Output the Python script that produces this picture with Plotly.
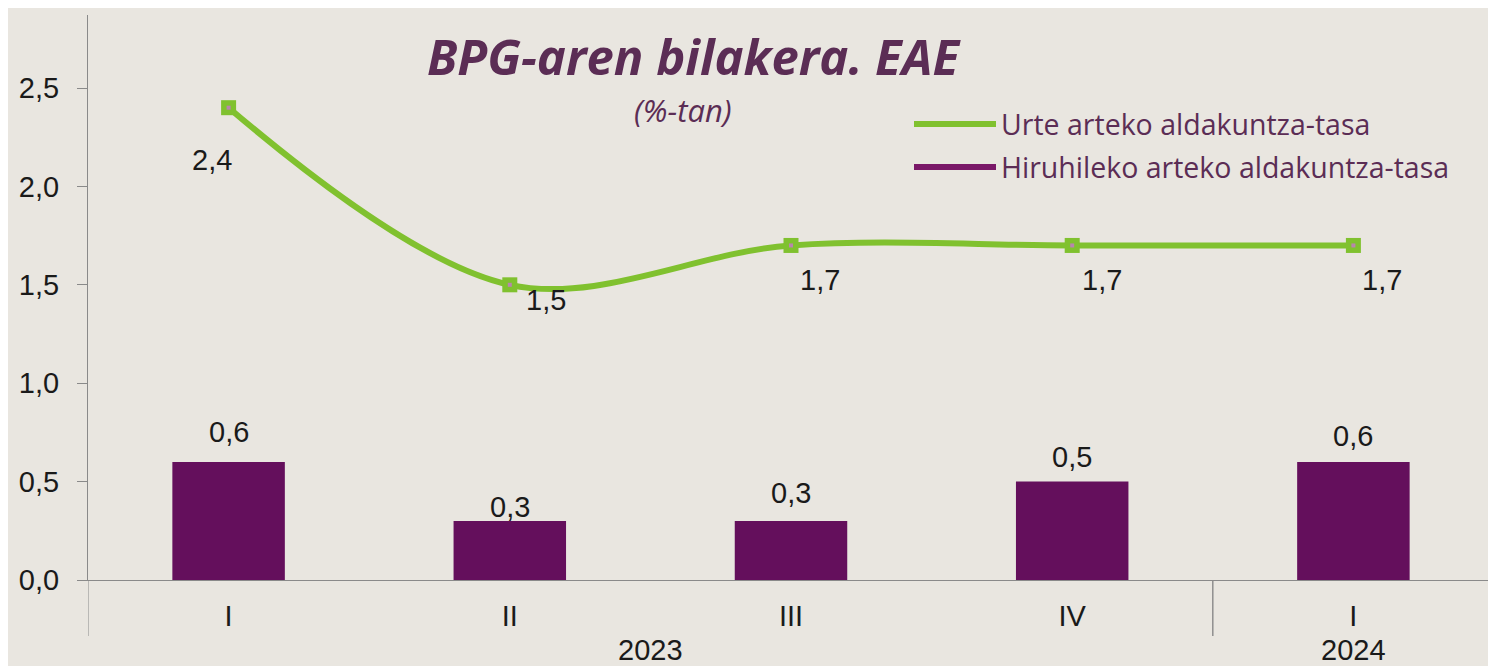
import plotly.graph_objects as go

# ---- data ----
years = ["2023", "2023", "2023", "2023", "2024"]
quarters = ["I", "II", "III", "IV", "I"]
annual_rate = [2.4, 1.5, 1.7, 1.7, 1.7]      # Urte arteko aldakuntza-tasa
quarterly_rate = [0.6, 0.3, 0.3, 0.5, 0.6]   # Hiruhileko arteko aldakuntza-tasa
y_ticks = [0, 0.5, 1.0, 1.5, 2.0, 2.5]
y_tick_labels = ["0,0", "0,5", "1,0", "1,5", "2,0", "2,5"]
title_text = "BPG-aren bilakera. EAE"
subtitle_text = "(%-tan)"
name_annual = "Urte arteko aldakuntza-tasa"
name_quarterly = "Hiruhileko arteko aldakuntza-tasa"

# ---- style ----
BG = "#E9E6E0"
GREEN = "#80C12F"
PURPLE = "#640F5C"
TEXT_PURPLE = "#5B2D55"
AXIS = "#8A8A8A"
NUM_FONT = dict(family="Liberation Sans, Arial, sans-serif", size=29, color="#1A1A1A")

# figure geometry (page is offset by the 8px body margin)
L, T, R, B = 80, 7, 10, 94
W, H = 1496, 666
PW, PH = W - L - R, H - T - B

def px_x(x):
    return (x - L) / PW

def px_y(y):
    return (H - B - y) / PH

# label offsets (pixels), style only
line_label_shift = [(-17, -52), (36, -15), (29, -35), (30, -35), (29, -35)]
bar_label_shift = [30, 14, 28, 25, 26]

# unique category keys (quarter + year), displayed as the quarter only
cats = [f"{q} {y}" for q, y in zip(quarters, years)]

def fmt(v):
    return f"{v:.1f}".replace(".", ",")

fig = go.Figure()

fig.add_trace(go.Bar(
    x=cats, y=quarterly_rate, marker=dict(color=PURPLE, line=dict(width=0)),
    width=0.4, showlegend=False, legendgroup="q", hoverinfo="y",
))
fig.add_trace(go.Scatter(
    x=cats, y=annual_rate, mode="lines", name=name_annual,
    line=dict(color=GREEN, width=6, shape="spline", smoothing=1),
    legendgroup="a", legendrank=1,
))
fig.add_trace(go.Scatter(
    x=cats, y=annual_rate, mode="markers", showlegend=False, hoverinfo="skip",
    marker=dict(symbol="square", size=15, color=GREEN),
))
fig.add_trace(go.Scatter(
    x=cats, y=annual_rate, mode="markers", showlegend=False, hoverinfo="skip",
    marker=dict(symbol="square", size=4, color="#B886AE"),
))
# legend entry for the bar series (shown as a line, as in the original)
fig.add_trace(go.Scatter(
    x=[None], y=[None], mode="lines", name=name_quarterly,
    line=dict(color="#7A1868", width=6), legendgroup="q", legendrank=2,
))

ann = []
for i in range(len(cats)):
    dx, dy = line_label_shift[i]
    ann.append(dict(x=cats[i], y=annual_rate[i], xref="x", yref="y", text=fmt(annual_rate[i]),
                    showarrow=False, xshift=dx, yshift=dy, font=NUM_FONT))
    ann.append(dict(x=cats[i], y=quarterly_rate[i], xref="x", yref="y", text=fmt(quarterly_rate[i]),
                    showarrow=False, yshift=bar_label_shift[i], font=NUM_FONT))

# year group labels and dividers
shapes = []
groups = []
for i, yv in enumerate(years):
    if not groups or groups[-1][0] != yv:
        groups.append([yv, i, i])
    else:
        groups[-1][2] = i
for yv, i0, i1 in groups:
    ann.append(dict(x=(i0 + i1) / 2, y=px_y(650 - 8), xref="x", yref="paper", text=yv,
                    showarrow=False, xanchor="center", yanchor="middle", font=NUM_FONT))
    for bx in (i0 - 0.5, i1 + 0.5):
        shapes.append(dict(type="line", xref="x", yref="paper", x0=bx, x1=bx,
                           y0=0, y1=px_y(636 - 8), line=dict(color=AXIS, width=1)))

ann.append(dict(x=px_x(675), y=px_y(102), xref="paper", yref="paper", text=subtitle_text,
                showarrow=False, xanchor="center", yanchor="middle",
                font=dict(family="Open Sans", size=31, color=TEXT_PURPLE, style="italic")))

fig.update_layout(
    width=W, height=H,
    paper_bgcolor=BG, plot_bgcolor=BG,
    margin=dict(l=L, r=R, t=T, b=B, autoexpand=False),
    title=dict(text=title_text, x=685 / W, xanchor="center", y=1 - 50 / H, yanchor="middle",
               font=dict(family="Open Sans", size=49, weight=700, style="italic", color=TEXT_PURPLE)),
    showlegend=True,
    legend=dict(x=px_x(901), y=px_y(91), xanchor="left", yanchor="top",
                bgcolor="rgba(0,0,0,0)", font=dict(family="Open Sans", size=28.5, color=TEXT_PURPLE),
                tracegroupgap=3, itemwidth=82, traceorder="grouped"),
    bargap=0.6,
    xaxis=dict(type="category", range=[-0.5, len(cats) - 0.5], tickvals=cats, ticktext=quarters,
               showline=True, linecolor=AXIS, linewidth=1, ticks="", ticklabelstandoff=10,
               tickfont=NUM_FONT, showgrid=False, zeroline=False, automargin=False),
    yaxis=dict(range=[0, 2.871], tickvals=y_ticks, ticktext=y_tick_labels, tickfont=NUM_FONT,
               showline=True, linecolor=AXIS, linewidth=1, ticks="outside", ticklen=10,
               tickcolor=AXIS, showgrid=False, zeroline=False, ticklabelstandoff=12,
               automargin=False),
    shapes=shapes,
    annotations=ann,
)

fig.write_html("out.html")
